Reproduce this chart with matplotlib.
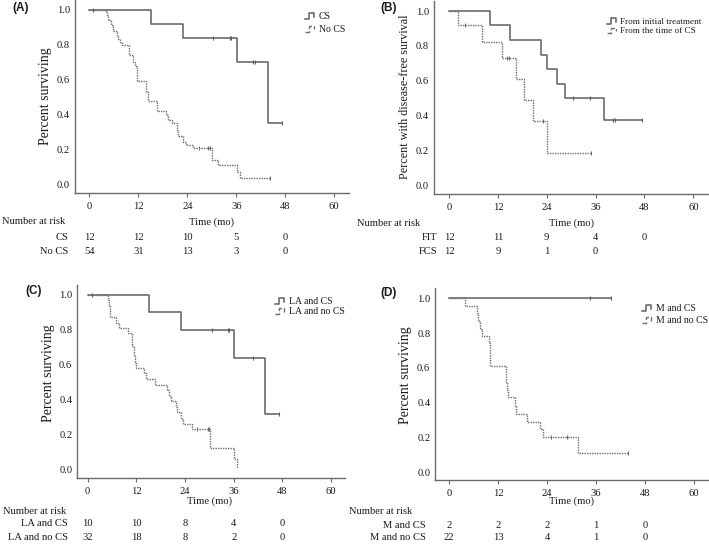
import numpy as np
import matplotlib
matplotlib.use("Agg")
import matplotlib.pyplot as plt
from matplotlib.lines import Line2D
from matplotlib.legend_handler import HandlerBase
import matplotlib.transforms as mtransforms

# ---------------- DATA ----------------
x_ticks = [0, 12, 24, 36, 48, 60]
y_ticks = [0.0, 0.2, 0.4, 0.6, 0.8, 1.0]
risk_times = [0, 12, 24, 36, 48]

# Panel A
a_cs_t = [0, 15.1, 22.9, 36.1, 43.7, 47.3]
a_cs_s = [1.0, 0.917, 0.836, 0.70, 0.35, 0.35]
a_cs_cens = [0.9, 30.4, 34.5, 34.8, 40.1, 40.6, 47.3]
a_no_t = [0, 3.8, 4.3, 4.7, 5.3, 5.9, 6.9, 7.1, 7.5, 8.1, 9.8, 10.8, 11.2, 11.6, 11.8,
          14.0, 14.4, 16.5, 18.9, 19.3, 20.3, 21.4, 21.8, 23.0, 23.8, 25.5, 30.1, 31.6,
          36.1, 36.9, 44.2]
a_no_s = [1.0, 0.99, 0.97, 0.94, 0.91, 0.88, 0.85, 0.83, 0.815, 0.80, 0.74, 0.70, 0.675,
          0.625, 0.59, 0.53, 0.48, 0.42, 0.40, 0.37, 0.35, 0.31, 0.275, 0.245, 0.226,
          0.21, 0.14, 0.11, 0.073, 0.037, 0.037]
a_no_cens = [26.9, 29.1, 29.5, 44.2]
a_labels = ["CS", "No CS"]
a_risk = [[12, 12, 10, 5, 0], [54, 31, 13, 3, 0]]
a_risk_names = ["CS", "No CS"]

# Panel B
b_fit_t = [0, 10.1, 15.0, 22.5, 24.0, 26.6, 28.6, 38.0, 47.3]
b_fit_s = [1.0, 0.917, 0.833, 0.75, 0.667, 0.583, 0.50, 0.375, 0.375]
b_fit_cens = [30.5, 34.6, 40.2, 40.7, 47.3]
b_fcs_t = [0, 2.3, 8.2, 12.9, 16.4, 18.5, 20.7, 24.0, 34.9]
b_fcs_s = [1.0, 0.917, 0.825, 0.733, 0.611, 0.489, 0.367, 0.183, 0.183]
b_fcs_cens = [3.9, 14.2, 14.7, 23.2, 34.9]
b_labels = ["From initial treatment", "From the time of CS"]
b_risk = [[12, 11, 9, 4, 0], [12, 9, 1, 0]]
b_risk_names = ["FIT", "FCS"]

# Panel C
c_cs_t = [0, 15.2, 22.9, 36.2, 43.7, 47.2]
c_cs_s = [1.0, 0.90, 0.80, 0.64, 0.32, 0.32]
c_cs_cens = [1.0, 30.6, 34.5, 34.9, 40.8, 47.2]
c_no_t = [0, 5.1, 5.3, 5.6, 7.0, 7.6, 10.0, 11.0, 11.4, 11.6, 12.0, 14.0, 14.3, 16.6,
          19.6, 20.1, 20.5, 21.7, 22.0, 23.0, 23.6, 25.6, 30.2, 36.1, 36.8, 37.0]
c_no_s = [1.0, 0.97, 0.94, 0.875, 0.84, 0.81, 0.78, 0.71, 0.65, 0.61, 0.58, 0.55, 0.52,
          0.485, 0.455, 0.42, 0.39, 0.36, 0.33, 0.29, 0.26, 0.23, 0.12, 0.06, 0.015, 0.015]
c_no_cens = [27.0, 29.6, 29.9]
c_labels = ["LA and CS", "LA and no CS"]
c_risk = [[10, 10, 8, 4, 0], [32, 18, 8, 2, 0]]
c_risk_names = ["LA and CS", "LA and no CS"]

# Panel D
d_cs_t = [0, 39.6]
d_cs_s = [1.0, 1.0]
d_cs_cens = [34.5, 39.6]
d_no_t = [0, 3.9, 6.9, 7.2, 7.6, 8.0, 9.8, 10.0, 14.0, 14.2, 14.5, 16.2, 16.4, 19.0,
          22.4, 22.9, 31.5, 43.9]
d_no_s = [1.0, 0.957, 0.913, 0.87, 0.826, 0.783, 0.74, 0.61, 0.52, 0.47, 0.43, 0.38,
          0.335, 0.29, 0.245, 0.20, 0.11, 0.11]
d_no_cens = [25.1, 29.0, 43.9]
d_labels = ["M and CS", "M and no CS"]
d_risk = [[2, 2, 2, 1, 0], [22, 13, 4, 1, 0]]
d_risk_names = ["M and CS", "M and no CS"]

# ---------------- STYLE ----------------
W, H = 709, 547
SERIF = ["Liberation Serif", "DejaVu Serif"]
plt.rcParams["font.family"] = SERIF
TXT = "#1a1a1a"
SOLID_C = "#5f5f5f"
DOT_C = "#6e6e6e"
SPINE_C = "#6a6a6a"
FS = 7.6

fig = plt.figure(figsize=(W / 100, H / 100), dpi=100)
fig.patch.set_facecolor("white")


def fx(px):
    return px / W


def fy(py):
    return 1 - py / H


class HandlerStep(HandlerBase):
    def create_artists(self, legend, orig_handle, xdescent, ydescent, width, height,
                       fontsize, trans):
        xs = np.array([0.0, 0.35, 0.35, 0.85, 0.85]) * width - xdescent
        ys = np.array([0.05, 0.05, 0.85, 0.85, 0.35]) * height - ydescent
        ln = Line2D(xs, ys, color=orig_handle.get_color(),
                    linestyle=orig_handle.get_linestyle(),
                    lw=orig_handle.get_linewidth(), transform=trans)
        return [ln]


XL = (-3.5, 63.5)
YL = (-0.048, 1.06)


def make_axes(x0, ppm, y1, y0, xleft):
    ppu = y0 - y1
    left = x0 + xleft * ppm
    right = x0 + XL[1] * ppm
    top = y1 - (YL[1] - 1) * ppu
    bottom = y0 - YL[0] * ppu
    ax = fig.add_axes([fx(left), fy(bottom), (right - left) / W, (bottom - top) / H])
    ax.set_xlim(xleft, XL[1])
    ax.set_ylim(*YL)
    for s in ["top", "right"]:
        ax.spines[s].set_visible(False)
    for s in ["left", "bottom"]:
        ax.spines[s].set_color(SPINE_C)
        ax.spines[s].set_linewidth(1.0)
    ax.set_xticks(x_ticks)
    ax.set_yticks(y_ticks)
    ax.set_yticklabels([f"{v:.1f}" for v in y_ticks])
    ax.tick_params(axis="x", length=3, width=0.8, color=SPINE_C, pad=3.5,
                   labelsize=FS, labelcolor=TXT)
    ax.tick_params(axis="y", length=0, pad=3.5, labelsize=FS, labelcolor=TXT)
    ax.patch.set_alpha(0)
    return ax


def km(ax, t, s, cens, style, label):
    t = np.asarray(t, float)
    s = np.asarray(s, float)
    if style == "solid":
        kw = dict(color=SOLID_C, lw=1.1, linestyle="-")
    else:
        kw = dict(color=DOT_C, lw=1.0, linestyle=(0, (1, 0.8)))
    line, = ax.step(t, s, where="post", label=label, **kw)
    if len(cens):
        c = np.asarray(cens, float)
        idx = np.searchsorted(t, c, side="right") - 1
        ax.plot(c, s[idx], linestyle="none", marker="|", ms=3.5, mew=0.8,
                color=kw["color"])
    return line


def legend(ax, handles, labels, ux, uy, fs, spacing):
    ax.legend(handles, labels, handler_map={Line2D: HandlerStep()},
              loc="upper left", bbox_to_anchor=(fx(ux), fy(uy)),
              bbox_transform=fig.transFigure, frameon=False, fontsize=fs,
              handlelength=1.1, handleheight=0.8, handletextpad=0.3,
              labelspacing=spacing, borderpad=0, borderaxespad=0,
              labelcolor=TXT)


def risk_table(ax, rows, names, name_right, nar_left, nar_y, time_y, row_ys):
    tr = mtransforms.blended_transform_factory(ax.transData, fig.transFigure)
    fig.text(fx(nar_left), fy(nar_y), "Number at risk", fontsize=FS, color=TXT,
             ha="left", va="center")
    ax.text(30, fy(time_y), "Time (mo)", transform=tr, fontsize=FS, color=TXT,
            ha="center", va="center")
    for vals, nm, ry in zip(rows, names, row_ys):
        fig.text(fx(name_right), fy(ry), nm, fontsize=FS, color=TXT, ha="right",
                 va="center")
        for tm, v in zip(risk_times, vals):
            ax.text(tm, fy(ry), str(v), transform=tr, fontsize=FS, color=TXT,
                    ha="center", va="center")


def ylabel(text, px, py, fs=10):
    fig.text(fx(px), fy(py), text, rotation=90, fontsize=fs, color=TXT,
             ha="center", va="center")


def panel_label(text, px, py):
    fig.text(fx(px), fy(py), text, fontsize=8.5, fontweight="bold",
             family=["Liberation Sans", "DejaVu Sans"], color=TXT,
             ha="left", va="center")


# ---------------- PANEL A ----------------
axA = make_axes(89.3, 4.083, 9.7, 184.4, -3.5)
l1 = km(axA, a_cs_t, a_cs_s, a_cs_cens, "solid", a_labels[0])
l2 = km(axA, a_no_t, a_no_s, a_no_cens, "dot", a_labels[1])
legend(axA, [l1, l2], a_labels, 305, 12, 7, 0.35)
ylabel("Percent surviving", 46, 96)
panel_label("(A)", 12, 8)
risk_table(axA, a_risk, a_risk_names, 68, 2, 222, 222, [238, 252])

# ---------------- PANEL B ----------------
axB = make_axes(449, 4.072, 11, 185.4, -3.7)
l1 = km(axB, b_fit_t, b_fit_s, b_fit_cens, "solid", b_labels[0])
l2 = km(axB, b_fcs_t, b_fcs_s, b_fcs_cens, "dot", b_labels[1])
legend(axB, [l1, l2], b_labels, 607, 17, 6.6, 0.12)
ylabel("Percent with disease-free survival", 405, 97, fs=8.7)
panel_label("(B)", 380, 8)
risk_table(axB, b_risk, b_risk_names, 437, 357, 223, 223, [238, 252])

# ---------------- PANEL C ----------------
axC = make_axes(87.7, 4.055, 295, 469.3, -2.6)
l1 = km(axC, c_cs_t, c_cs_s, c_cs_cens, "solid", c_labels[0])
l2 = km(axC, c_no_t, c_no_s, c_no_cens, "dot", c_labels[1])
legend(axC, [l1, l2], c_labels, 275, 297, 7, 0.1)
ylabel("Percent surviving", 48, 373)
panel_label("(C)", 25, 291)
risk_table(axC, c_risk, c_risk_names, 68, 3, 511, 501, [524, 537])

# ---------------- PANEL D ----------------
axD = make_axes(449, 4.083, 298.3, 472, -3.4)
l1 = km(axD, d_cs_t, d_cs_s, d_cs_cens, "solid", d_labels[0])
l2 = km(axD, d_no_t, d_no_s, d_no_cens, "dot", d_labels[1])
legend(axD, [l1, l2], d_labels, 642, 304, 7, 0.3)
ylabel("Percent surviving", 405, 375)
panel_label("(D)", 380, 293)
risk_table(axD, d_risk, d_risk_names, 426, 349, 512, 501, [525, 537])

fig.savefig("out.png", dpi=100, facecolor="white")
